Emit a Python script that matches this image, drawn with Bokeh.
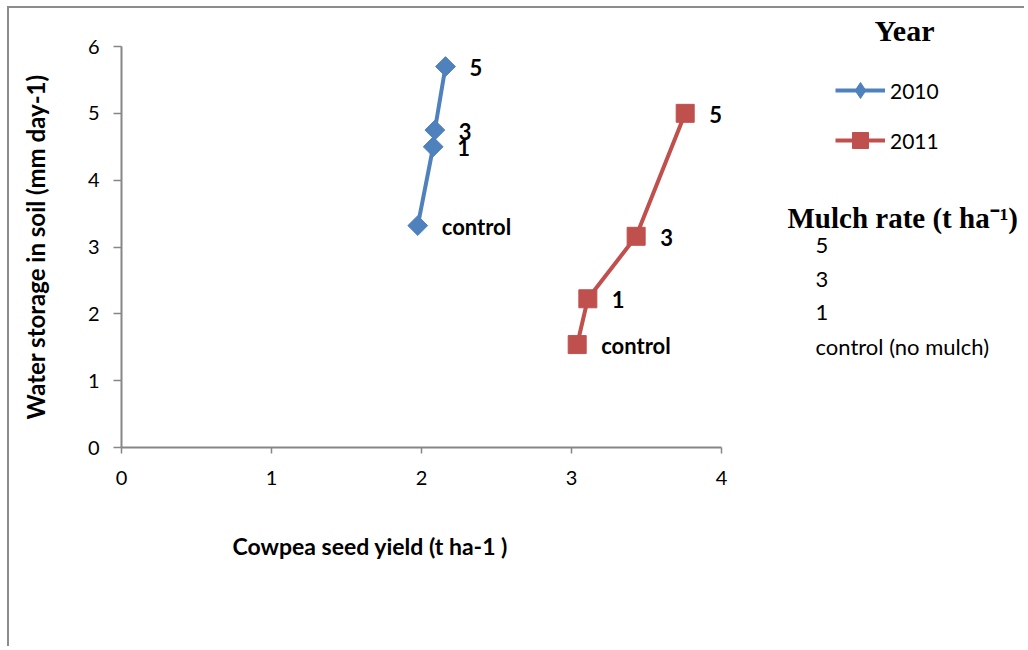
import math
from bokeh.plotting import figure
from bokeh.layouts import row
from bokeh.models import (Range1d, FixedTicker, Label, Legend, LegendItem,
                          ColumnDataSource, Title)
from bokeh.core.properties import value
from bokeh.embed import file_html
from bokeh.resources import INLINE

# ---- data ----
mulch_labels = ["control", "1", "3", "5"]
yield_2010 = [1.975, 2.078, 2.089, 2.16]
water_2010 = [3.32, 4.50, 4.75, 5.70]
yield_2011 = [3.038, 3.109, 3.431, 3.758]
water_2011 = [1.54, 2.225, 3.16, 5.00]
x_ticks = [0, 1, 2, 3, 4]
y_ticks = [0, 1, 2, 3, 4, 5, 6]
years = ["2010", "2011"]
mulch_legend = ["5", "3", "1", "control (no mulch)"]

BLUE = "#4F81BD"
RED = "#C0504D"
GRAY = "#868686"

# page origin of the layout content (after margin + border)
OX, OY = 9, 8
H = 638
MAIN_W = 760
FTOP, FBOT = 46, 447  # page y of plot frame top / bottom

p = figure(width=MAIN_W, height=H, output_backend="svg", toolbar_location=None,
           x_range=Range1d(0, 4), y_range=Range1d(0, 6),
           min_border_left=121 - OX, min_border_right=OX + MAIN_W - 721,
           min_border_top=FTOP - OY, min_border_bottom=OY + H - FBOT)
p.xgrid.visible = False
p.ygrid.visible = False
p.outline_line_color = None

for ax, ticks in ((p.xaxis[0], x_ticks), (p.yaxis[0], y_ticks)):
    ax.ticker = FixedTicker(ticks=ticks)
    ax.axis_line_color = GRAY
    ax.axis_line_width = 2
    ax.major_tick_line_color = GRAY
    ax.major_tick_line_width = 1.5
    ax.major_tick_in = 0
    ax.minor_tick_line_color = None
    ax.major_label_text_font = "Lato"
    ax.major_label_text_font_size = "20px"
    ax.major_label_text_color = "black"
p.xaxis.major_tick_out = 6
p.yaxis.major_tick_out = 8
p.xaxis.major_label_standoff = 17
p.yaxis.major_label_standoff = 14

p.yaxis.axis_label = "Water storage in soil (mm day-1)"
p.yaxis.axis_label_text_font = "Lato"
p.yaxis.axis_label_text_font_size = "24px"
p.yaxis.axis_label_text_font_style = "bold"
p.yaxis.axis_label_text_color = "black"
p.yaxis.axis_label_standoff = 35

p.add_layout(Title(text="Cowpea seed yield (t ha-1 )", align="left",
                   offset=232 - 121, standoff=85, text_font="Lato",
                   text_font_size="23px", text_font_style="bold",
                   text_color="black"), "below")

src10 = ColumnDataSource(dict(x=yield_2010, y=water_2010, t=mulch_labels))
src11 = ColumnDataSource(dict(x=yield_2011, y=water_2011, t=mulch_labels))

p.line("x", "y", source=src10, line_color=BLUE, line_width=4)
p.scatter("x", "y", source=src10, marker="square", angle=math.pi / 4,
          size=14, fill_color=BLUE, line_color=BLUE)
p.line("x", "y", source=src11, line_color=RED, line_width=4)
p.scatter("x", "y", source=src11, marker="square", size=18,
          fill_color=RED, line_color=RED)

for src in (src10, src11):
    p.text("x", "y", text="t", source=src, x_offset=24, y_offset=1,
           text_baseline="middle", text_align="left",
           text_font=value("Lato"), text_font_style="bold",
           text_font_size="22px", text_color="black")

# ---- right-hand legend panel (data units = page pixels) ----
RX0 = OX + MAIN_W
RW = 1024 - RX0
q = figure(width=RW, height=H, output_backend="svg", toolbar_location=None,
           x_range=Range1d(RX0, RX0 + RW), y_range=Range1d(FBOT, FTOP),
           x_axis_type=None, y_axis_type=None, min_border=0,
           min_border_top=FTOP - OY, min_border_bottom=OY + H - FBOT)
q.xgrid.visible = False
q.ygrid.visible = False
q.outline_line_color = None

# legend proxies: same series, which fall outside this panel's ranges
ql10 = q.line("x", "y", source=src10, line_color=BLUE, line_width=4)
qm10 = q.scatter("x", "y", source=src10, marker="diamond", size=16,
                 fill_color=BLUE, line_color=BLUE)
ql11 = q.line("x", "y", source=src11, line_color=RED, line_width=4)
qm11 = q.scatter("x", "y", source=src11, marker="square", size=16,
                 fill_color=RED, line_color=RED)

legend = Legend(items=[LegendItem(label=years[0], renderers=[ql10, qm10]),
                       LegendItem(label=years[1], renderers=[ql11, qm11])],
                location=(835 - RX0, FBOT - 160), glyph_width=50,
                glyph_height=40, spacing=10, padding=0, margin=0,
                label_standoff=5, label_text_font="Lato",
                label_text_font_size="21px", label_text_baseline="middle",
                label_text_color="black",
                background_fill_alpha=0, border_line_alpha=0)
q.add_layout(legend, "center")

q.add_layout(Title(text="Year", align="left", offset=874 - RX0, standoff=0,
                   text_font="Liberation Serif", text_font_size="30px",
                   text_font_style="bold", text_color="black"), "above")


def lab(fig, text, x, y, font="Lato", size="22px", style="normal",
        align="left", baseline="middle"):
    fig.add_layout(Label(x=x, y=y, text=text, text_font=font,
                         text_font_size=size, text_font_style=style,
                         text_align=align, text_baseline=baseline,
                         text_color="black"))


lab(q, "Mulch rate (t ha\u207b\u00b9)", 787, 217, font="Liberation Serif",
    size="29px", style="bold", baseline="alphabetic")
for i, t in enumerate(mulch_legend):
    lab(q, t, 815, 245 + i * 33.7)

layout = row(p, q, margin=(6, 0, 0, 7),
             styles={"border-left": "2px solid #8c8c8c",
                     "border-top": "2px solid #8c8c8c"})

open("out.html", "w").write(file_html(layout, INLINE))
